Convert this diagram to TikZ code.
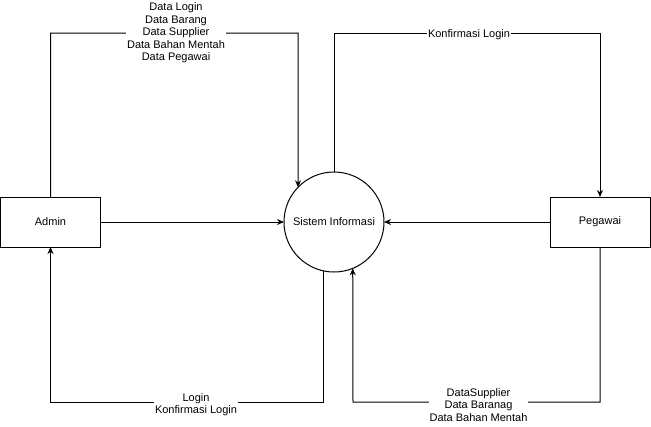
\documentclass[tikz,border=0pt]{standalone}
\usepackage{fontspec}
\setmainfont{Liberation Sans}
\usetikzlibrary{arrows.meta,positioning}

\begin{document}
\begin{tikzpicture}[
  x=1pt,y=-1pt,
  ent/.style={draw,line width=1pt,minimum width=100pt,minimum height=50pt,
              inner sep=0pt,outer sep=0pt,font=\fontsize{11}{12.5}\selectfont},
  proc/.style={draw,circle,line width=1pt,minimum size=100pt,inner sep=0pt,
               outer sep=0pt,font=\fontsize{11}{12.5}\selectfont},
  flow/.style={-{Stealth[length=7pt,width=6pt]},line width=1pt},
  lbl/.style={fill=white,align=center,inner sep=1pt,
              font=\fontsize{11}{12.5}\selectfont}
]
\useasboundingbox (0,0) rectangle (651,426);
\node[ent] (admin) at (50.5,222) {Admin};
\node[proc,right=183.5pt of admin] (sys) {Sistem Informasi};
\node[ent,right=166pt of sys] (peg) {Pegawai};
% alur utama
\draw[flow] (admin) -- (sys);
\draw[flow] (peg) -- (sys);
% admin ke sistem
\coordinate (ta) at (298,33);
\draw[flow] (admin.north) |- (ta) -- (sys.136);
\node[lbl] (la) at (176,33) {Data Login\\Data Barang\\Data Supplier\\Data Bahan Mentah\\Data Pegawai};
% sistem ke pegawai
\coordinate (tp) at (600,33);
\draw[flow] (sys.north) |- (tp) -- (peg.north);
\node[lbl] (lp) at (469,35) {Konfirmasi Login};
% sistem ke admin
\coordinate (ba) at (50.5,402);
\draw[flow] (sys.258.5) |- (ba) -- (admin.south);
\node[lbl] (lb) at (196,404.5) {Login\\Konfirmasi Login};
% pegawai ke sistem
\coordinate (bp) at (353,402);
\draw[flow] (peg.south) |- (bp) -- (sys.292.3);
\node[lbl] (lc) at (478.5,405) {DataSupplier\\Data Baranag\\Data Bahan Mentah};
\end{tikzpicture}
\end{document}
